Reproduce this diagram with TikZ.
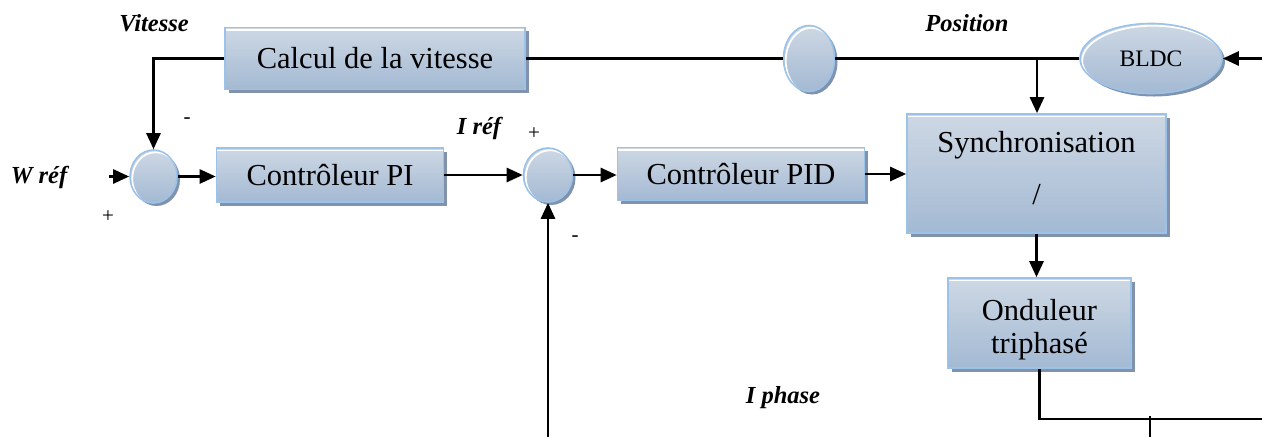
\documentclass[tikz,border=0pt]{standalone}
\usepackage{fontspec}
\setmainfont{Liberation Serif}
\usetikzlibrary{arrows.meta,shapes.geometric,shadows}

\definecolor{blocktop}{RGB}{206,216,228}
\definecolor{blockbot}{RGB}{163,185,211}
\definecolor{blockedge}{RGB}{155,194,232}
\definecolor{blockshade}{RGB}{128,146,172}

\newcommand{\blockfont}{\fontsize{30.5}{33}\selectfont}
\newcommand{\labfont}{\fontsize{24.5}{26}\selectfont\bfseries\itshape}

\tikzset{
  block/.style={rectangle, draw=blockedge, line width=1.6pt,
    top color=blocktop, bottom color=blockbot, inner sep=0pt,
    drop shadow={shadow xshift=3.5pt, shadow yshift=-3.5pt, fill=blockshade, opacity=1},
    font=\blockfont, align=center,
    path picture={\draw[white, line width=1.6pt]
      ([yshift=-2.4pt]path picture bounding box.north west) --
      ([yshift=-2.4pt]path picture bounding box.north east);}},
  junction/.style 2 args={ellipse, draw=blockedge, line width=1.6pt,
    top color=blocktop, bottom color=blockbot, inner sep=0pt,
    minimum width=#1pt, minimum height=#2pt,
    drop shadow={shadow xshift=3pt, shadow yshift=-3pt, fill=blockshade, opacity=1},
    path picture={\draw[white, line width=1.8pt]
      ([xshift=2.2pt, yshift=-2.2pt]path picture bounding box.center)
      ellipse [x radius={0.5*#1pt}, y radius={0.5*#2pt}];}},
  lab/.style={font=\labfont, inner sep=0pt},
  sgn/.style={font=\fontsize{21}{23}\selectfont, inner sep=0pt},
  wire/.style={line width=2.6pt},
  conn/.style={line width=2.6pt, -{Triangle[length=16pt, width=14pt]}},
}

\begin{document}
\begin{tikzpicture}[x=1pt, y=-1pt]
\useasboundingbox (0,0) rectangle (1262,437);

% blocks
\node[block, minimum width=300pt, minimum height=62pt] (calc) at (375,58.5) {Calcul de la vitesse};
\node[block, minimum width=227pt, minimum height=54pt] (pi) at (330,175) {Contrôleur PI};
\node[block, minimum width=247pt, minimum height=53pt] (pid) at (741,174) {Contrôleur PID};
\node[block, minimum width=259pt, minimum height=119pt,
      font=\fontsize{30.5}{52}\selectfont, text height=73pt, text depth=12pt]
      (sync) at (1036.5,173.5) {Synchronisation\\/};
\node[block, minimum width=183pt, minimum height=90pt, text height=60pt, text depth=0pt]
      (ond) at (1039.5,323) {Onduleur\\triphasé};

% summing points, sensor and motor
\node[junction={47}{53}] (s1) at (153.5,176.5) {};
\node[junction={49}{54}] (s2) at (548,175) {};
\node[junction={51}{66}] (enc) at (809,58.5) {};
\node[junction={142}{70}, font=\fontsize{23.6}{25}\selectfont] (bldc) at (1151,58.5) {BLDC};

% signal names and signs
\node[lab] (vit) at (154,23) {Vitesse};
\node[lab] (pos) at (967,23) {Position};
\node[lab] (wref) at (39,177) {W réf};
\node[lab] (iref) at (479,128) {I réf};
\node[lab] (iph) at (783,398) {I phase};
\node[sgn] (p1) at (108,217) {+};
\node[sgn] (m1) at (187,121) {-};
\node[sgn] (p2) at (534,134) {+};
\node[sgn] (m2) at (575,239) {-};

% free ends of the wires
\coordinate (tap) at (1037,58.5);
\coordinate (mot) at (1262,58.5);
\coordinate (win) at (109,176.5);
\coordinate (iout) at (1262,419);
\coordinate (t1) at (1150,416);
\coordinate (t2) at (1150,437);
\coordinate (ifb) at (548,437);

% speed loop
\draw[conn] (calc.west) -| (s1.north);
\draw[conn] (win) -- (s1.west);
\draw[conn] (s1.east) -- (s1.east -| pi.west);
\draw[conn] (pi.east) -- (pi.east -| s2.west);
\draw[conn] (s2.east) -- (s2.east -| pid.west);
\draw[conn] (pid.east) -- (pid.east -| sync.west);

% position feedback
\draw[wire] (calc.east) -- (enc.west);
\draw[wire] (enc.east) -- (bldc.west);
\draw[conn] (mot) -- (bldc.east);
\draw[conn] (tap) -- (tap |- sync.north);

% power stage and current feedback
\draw[conn] (sync.south) -- (sync.south |- ond.north);
\draw[wire] (ond.south) |- (iout);
\draw[wire] (t1) -- (t2);
\draw[conn] (ifb) -- (s2.south);
\end{tikzpicture}
\end{document}
